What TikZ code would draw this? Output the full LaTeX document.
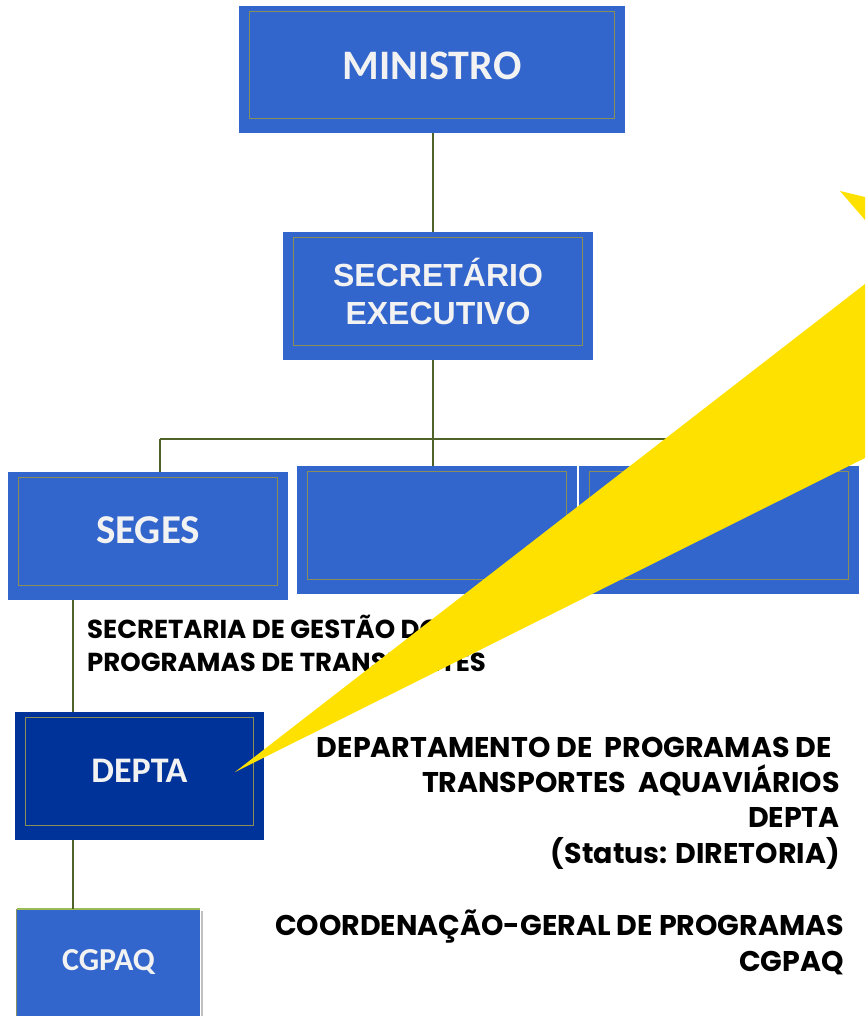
\documentclass[tikz,border=0pt]{standalone}
\usepackage{fontspec}
\usepackage{tikz}
\usepackage{tkz-euclide}
\usetikzlibrary{calc}
\usetikzlibrary{positioning}

\newfontfamily\calibri{Carlito}
\newfontfamily\arialfont{Liberation Sans}
\newfontfamily\gothic{Poppins}

\definecolor{boxblue}{HTML}{3366CC}
\definecolor{deptablue}{HTML}{003399}
\definecolor{boxtext}{HTML}{F2F2F2}
\definecolor{lineolive}{HTML}{4F6228}
\definecolor{frameolive}{HTML}{8A8F5A}
\definecolor{beamyellow}{HTML}{FFE100}
\definecolor{topgreen}{HTML}{9BBB59}

\newcommand{\innerframe}[1]{%
  \draw[frame] ($(#1.north west)+(11,-6)$) rectangle ($(#1.south east)+(-11,15)$);}

\begin{document}
\begin{tikzpicture}[%
  x=1pt, y=1pt,
  orgbox/.style={fill=boxblue, minimum width=280, minimum height=128,
    inner sep=0pt, text=boxtext, font=\calibri\bfseries\fontsize{41}{41}\selectfont},
  frame/.style={draw=frameolive, line width=0.8pt},
  link/.style={draw=lineolive, line width=1.5pt},
  infotext/.style={inner sep=0pt, text=black,
    font=\gothic\bfseries\fontsize{28.5}{35.3}\selectfont}
]

  \useasboundingbox (0,0) rectangle (865,-1016);

  % boxes
  \node[orgbox, minimum width=386, minimum height=127, text depth=7pt,
    font=\calibri\bfseries\fontsize{42}{42}\selectfont] (ministro) at (432,-69.5) {MINISTRO};
  \node[orgbox, minimum width=310, align=center, text depth=10pt,
    font=\arialfont\bfseries\fontsize{32}{38}\selectfont] (secex) at (438,-296) {SECRET\'ARIO\\EXECUTIVO};
  \node[orgbox, text depth=12pt] (seges) at (148,-536) {SEGES};
  \node[orgbox] (secB) at (437,-530) {};
  \node[orgbox] (secC) at (719,-530) {};
  \node[orgbox, fill=deptablue, minimum width=249, text depth=10pt,
    font=\calibri\bfseries\fontsize{36}{36}\selectfont] (depta) at (139.5,-776) {DEPTA};
  \node[orgbox, minimum width=183, minimum height=107,
    font=\calibri\bfseries\fontsize{32}{32}\selectfont] (cgpaq) at (108.5,-962.5) {CGPAQ};

  \innerframe{ministro}
  \innerframe{secex}
  \innerframe{seges}
  \innerframe{secB}
  \innerframe{secC}
  \innerframe{depta}
  \draw[draw=black!25, line width=2pt] ($(cgpaq.north east)+(1.5,-2)$) -- ($(cgpaq.south east)+(1.5,0)$);
  \draw[draw=topgreen, line width=2pt] (cgpaq.north west) -- (cgpaq.north east);
  \draw[draw=lineolive!70, line width=1pt] (cgpaq.north west) -- (cgpaq.south west);

  % connectors
  \coordinate (spine) at (433,-439);
  \coordinate (busL) at (160,-439);
  \coordinate (busR) at (719,-439);
  \coordinate (lowspine) at (73,-700);

  \draw[link] (ministro.south -| spine) -- (secex.north -| spine);
  \draw[link] (secex.south -| spine) -- (spine);
  \draw[link] (busL) -- (busR);
  \draw[link] (busL) -- (busL |- seges.north);
  \draw[link] (spine) -- (spine |- secB.north);
  \draw[link] (busR) -- (secC.north);
  \draw[link] (seges.south -| lowspine) -- (depta.north -| lowspine);
  \draw[link] (depta.south -| lowspine) -- (cgpaq.north -| lowspine);

  % texts
  \node[infotext, anchor=west, align=left,
    font=\gothic\bfseries\fontsize{26}{33}\selectfont] (segesinfo) at (87,-643.5)
    {SECRETARIA DE GEST\~AO DOS\\PROGRAMAS DE TRANSPORTES};
  \node[infotext, anchor=east, align=right] (deptainfo) at (840,-803)
    {DEPARTAMENTO DE\ \ PROGRAMAS DE\hspace*{8pt}\\TRANSPORTES\ \ AQUAVI\'ARIOS\\DEPTA\hspace*{8pt}\\(Status: DIRETORIA)};
  \node[infotext, anchor=east, align=right] (cgpaqinfo) at (844,-942.5)
    {COORDENA\c{C}\~AO-GERAL DE PROGRAMAS\\CGPAQ};

  % yellow beam
  \tkzDefPoint(235,-772){T}
  \tkzDefPoint(865,-284){U}
  \tkzDefPoint(865,-458){V}
  \tkzDefPoint(840,-191){P}
  \tkzDefPoint(865,-197){Q}
  \tkzDefPoint(865,-220){R}
  \tkzFillPolygon[color=beamyellow](T,U,V)
  \tkzFillPolygon[color=beamyellow](P,Q,R)

\end{tikzpicture}
\end{document}
